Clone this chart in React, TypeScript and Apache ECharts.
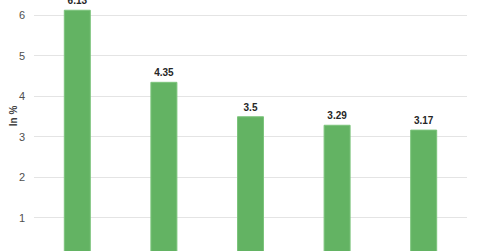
import React, { useEffect, useRef } from "react";
import * as echarts from "echarts";

const categories = ["A", "B", "C", "D", "E"];
const values = [6.13, 4.35, 3.5, 3.29, 3.17];
const yTicks = [0, 1, 2, 3, 4, 5, 6];
const axisTitle = "In %";

export default function App() {
  const ref = useRef<HTMLDivElement>(null);
  useEffect(() => {
    document.body.style.margin = "0";
    document.body.style.overflow = "hidden";
    const chart = echarts.init(ref.current!, null, { renderer: "svg" });
    chart.setOption({
      animation: false,
      backgroundColor: "#ffffff",
      grid: { left: 34, right: 13, top: 15, bottom: 0, containLabel: false },
      xAxis: {
        type: "category",
        data: categories,
        axisLine: { show: false },
        axisTick: { show: false },
        axisLabel: { show: false },
      },
      yAxis: {
        type: "value",
        min: yTicks[0],
        max: yTicks[yTicks.length - 1],
        interval: 1,
        axisLine: { show: false },
        axisTick: { show: false },
        axisLabel: {
          color: "#505050",
          fontSize: 11,
          fontFamily: "Liberation Sans, Arial, sans-serif",
          margin: 9,
          formatter: (v: number) => (v === 0 ? "" : String(v)),
        },
        splitLine: { lineStyle: { color: "#e4e4e4", width: 1 } },
      },
      graphic: [
        {
          type: "text",
          x: 13,
          y: 116,
          rotation: Math.PI / 2,
          style: {
            text: axisTitle,
            fill: "#404040",
            font: "bold 10px 'Liberation Sans', Arial, sans-serif",
            align: "center",
            verticalAlign: "middle",
          },
        },
      ],
      series: [
        {
          type: "bar",
          data: values,
          barWidth: 27,
          clip: false,
          itemStyle: { color: "#63b363", borderColor: "#7cc47c", borderWidth: 1 },
          label: {
            show: true,
            position: "top",
            distance: 4,
            color: "#262626",
            fontSize: 10,
            fontWeight: "bold",
            fontFamily: "Liberation Sans, Arial, sans-serif",
          },
        },
      ],
    });
    return () => chart.dispose();
  }, []);
  return <div ref={ref} style={{ width: 480, height: 258 }} />;
}
